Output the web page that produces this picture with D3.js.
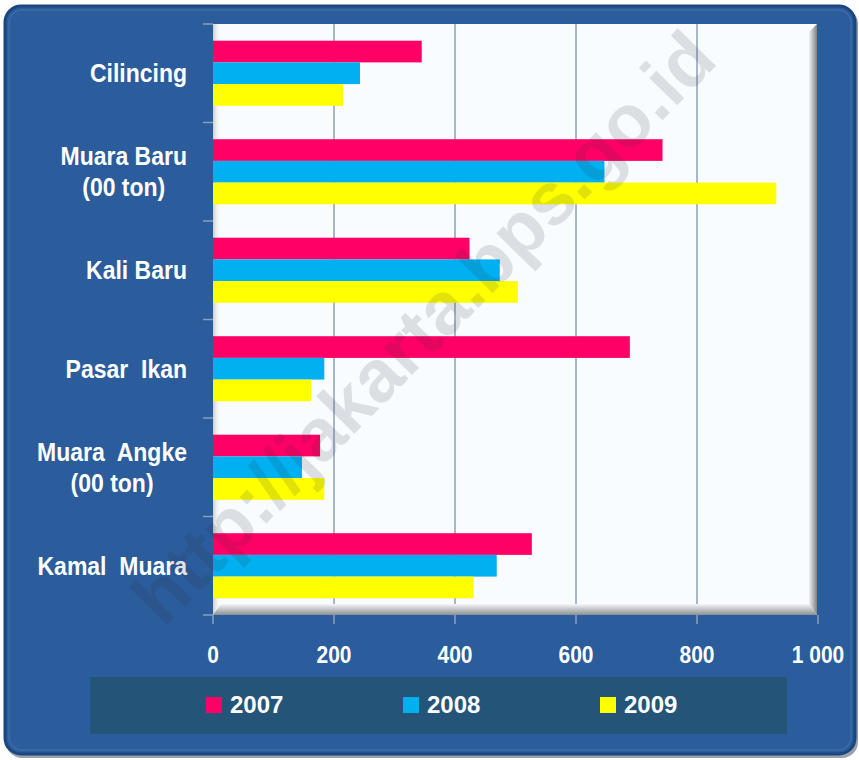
<!DOCTYPE html>
<html>
<head>
<meta charset="utf-8">
<script src="https://cdn.jsdelivr.net/npm/d3@7"></script>
<style>
  body { margin: 0; background: #fff; }
  text { font-family: "Liberation Sans", Arial, sans-serif; font-weight: bold; }
</style>
</head>
<body>
<script>
// fish landings per port, three years
var categories = ["Cilincing", "Muara Baru\n(00 ton)", "Kali Baru", "Pasar  Ikan", "Muara  Angke\n(00 ton)", "Kamal  Muara"];
var years = ["2007", "2008", "2009"];
var values2007 = [345, 743, 424, 689, 177, 527];
var values2008 = [243, 647, 474, 184, 147, 469];
var values2009 = [215, 931, 504, 162, 184, 431];
var xTicks = [0, 200, 400, 600, 800, 1000];
var xTickLabels = ["0", "200", "400", "600", "800", "1 000"];
var colors = ["#ff0066", "#00b0f0", "#ffff00"];

var series = [values2007, values2008, values2009];

var svg = d3.select("body").append("svg").attr("width", 859).attr("height", 760);
var defs = svg.append("defs");

var g1 = defs.append("linearGradient").attr("id", "bevelB").attr("x1", 0).attr("x2", 0).attr("y1", 0).attr("y2", 1);
g1.append("stop").attr("offset", "0%").attr("stop-color", "#f4f6f8");
g1.append("stop").attr("offset", "100%").attr("stop-color", "#8c8f93");
var g2 = defs.append("linearGradient").attr("id", "bevelR").attr("x1", 0).attr("x2", 1).attr("y1", 0).attr("y2", 0);
g2.append("stop").attr("offset", "0%").attr("stop-color", "#eef1f4");
g2.append("stop").attr("offset", "100%").attr("stop-color", "#7d8185");
var g3 = defs.append("linearGradient").attr("id", "shadowL").attr("x1", 0).attr("x2", 1).attr("y1", 0).attr("y2", 0);
g3.append("stop").attr("offset", "0%").attr("stop-color", "#c9ced4");
g3.append("stop").attr("offset", "100%").attr("stop-color", "#f8fcff").attr("stop-opacity", 0);

// outer frame
svg.append("rect").attr("x", 6).attr("y", 8).attr("width", 852).attr("height", 750).attr("rx", 16)
    .style("fill", "#9aa3ad");
svg.append("rect").attr("x", 5).attr("y", 6).attr("width", 850).attr("height", 748).attr("rx", 16)
    .style("fill", "#2b5c9b").style("stroke", "#1c467f").style("stroke-width", 3);
svg.append("rect").attr("x", 9).attr("y", 10).attr("width", 842).attr("height", 740).attr("rx", 13)
    .style("fill", "none").style("stroke", "#3b6cab").style("stroke-width", 1.5);

var plotLeft = 213, plotRight = 817, plotTop = 24, plotBottom = 615;

var x = d3.scaleLinear().domain([0, 1000]).range([plotLeft, 818]);
var y = d3.scaleBand().domain(d3.range(categories.length)).range([plotTop, plotBottom]);
var ySub = d3.scaleBand().domain(years).range([0, y.bandwidth()]).paddingOuter(0.77);

// plot background
svg.append("rect").attr("x", plotLeft).attr("y", plotTop).attr("width", plotRight - plotLeft).attr("height", plotBottom - plotTop)
    .style("fill", "#f9fcff");
svg.append("rect").attr("x", plotLeft).attr("y", plotTop).attr("width", 8).attr("height", plotBottom - plotTop)
    .style("fill", "url(#shadowL)");

// grid lines + bottom ticks
svg.selectAll(".grid").data(xTicks).enter().append("line")
    .attr("x1", function (d) { return x(d); })
    .attr("x2", function (d) { return x(d); })
    .attr("y1", function (d) { return (d == 0 || d == 1000) ? plotBottom : plotTop; })
    .attr("y2", plotBottom + 9)
    .style("stroke", "#8a9fbd").style("stroke-width", 1.5);

// bevel edges
svg.append("polygon").attr("points", [[plotLeft, plotBottom], [plotLeft + 8, plotBottom - 11], [plotRight - 8, plotBottom - 11], [plotRight, plotBottom]].join(" "))
    .style("fill", "url(#bevelB)");
svg.append("polygon").attr("points", [[plotRight, plotTop], [plotRight, plotBottom], [plotRight - 8, plotBottom - 11], [plotRight - 8, plotTop + 8]].join(" "))
    .style("fill", "url(#bevelR)");

// bars
for (var s = 0; s < series.length; s++) {
    svg.selectAll(".bar" + s).data(series[s]).enter().append("rect")
        .attr("x", x(0))
        .attr("y", function (d, i) { return y(i) + ySub(years[s]); })
        .attr("width", function (d) { return x(d) - x(0); })
        .attr("height", ySub.bandwidth())
        .style("fill", colors[s]);
}

// left ticks
var bounds = d3.range(categories.length + 1).map(function (i) { return plotTop + i * y.step(); });
svg.selectAll(".ytick").data(bounds).enter().append("line")
    .attr("x1", plotLeft - 10).attr("x2", plotLeft)
    .attr("y1", function (d) { return d; }).attr("y2", function (d) { return d; })
    .style("stroke", "#8a9fbd").style("stroke-width", 1.5);

// category labels (multi-line blocks are centred lines, block right-aligned)
var labelRight = 187;
categories.forEach(function (c, i) {
    var lines = c.split("\n");
    var cy = y(i) + y.bandwidth() / 2;
    var texts = lines.map(function (ln, k) {
        var base = cy + 9 + (k - (lines.length - 1) / 2) * 31;
        return svg.append("g").attr("transform", "translate(" + labelRight + "," + base + ") scale(1,1.13)")
            .append("text").attr("text-anchor", "middle")
            .style("white-space", "pre")
            .style("font-size", "23px").style("fill", "#ffffff")
            .text(ln);
    });
    var maxW = d3.max(texts, function (t) { return t.node().getComputedTextLength(); });
    texts.forEach(function (t) { t.attr("x", -maxW / 2); });
});

// x tick labels
xTicks.forEach(function (t, i) {
    svg.append("g").attr("transform", "translate(" + x(t) + ",663) scale(1,1.1)")
        .append("text").attr("text-anchor", "middle")
        .style("font-size", "21px").style("fill", "#ffffff")
        .text(xTickLabels[i]);
});

// legend
svg.append("rect").attr("x", 90).attr("y", 677).attr("width", 697).attr("height", 57)
    .style("fill", "#245579");
years.forEach(function (yr, i) {
    var lx = 206 + i * 197;
    svg.append("rect").attr("x", lx).attr("y", 697).attr("width", 16).attr("height", 16).style("fill", colors[i]);
    svg.append("text").attr("x", lx + 24).attr("y", 713)
        .style("font-size", "24px").style("fill", "#ffffff").text(yr);
});

// watermark
svg.append("text")
    .attr("transform", "translate(423,327) rotate(-45.5)")
    .attr("text-anchor", "middle").attr("dy", "0.35em")
    .style("font-size", "74px").style("fill", "rgba(45,50,55,0.14)")
    .text("http://jakarta.bps.go.id");
</script>
</body>
</html>
